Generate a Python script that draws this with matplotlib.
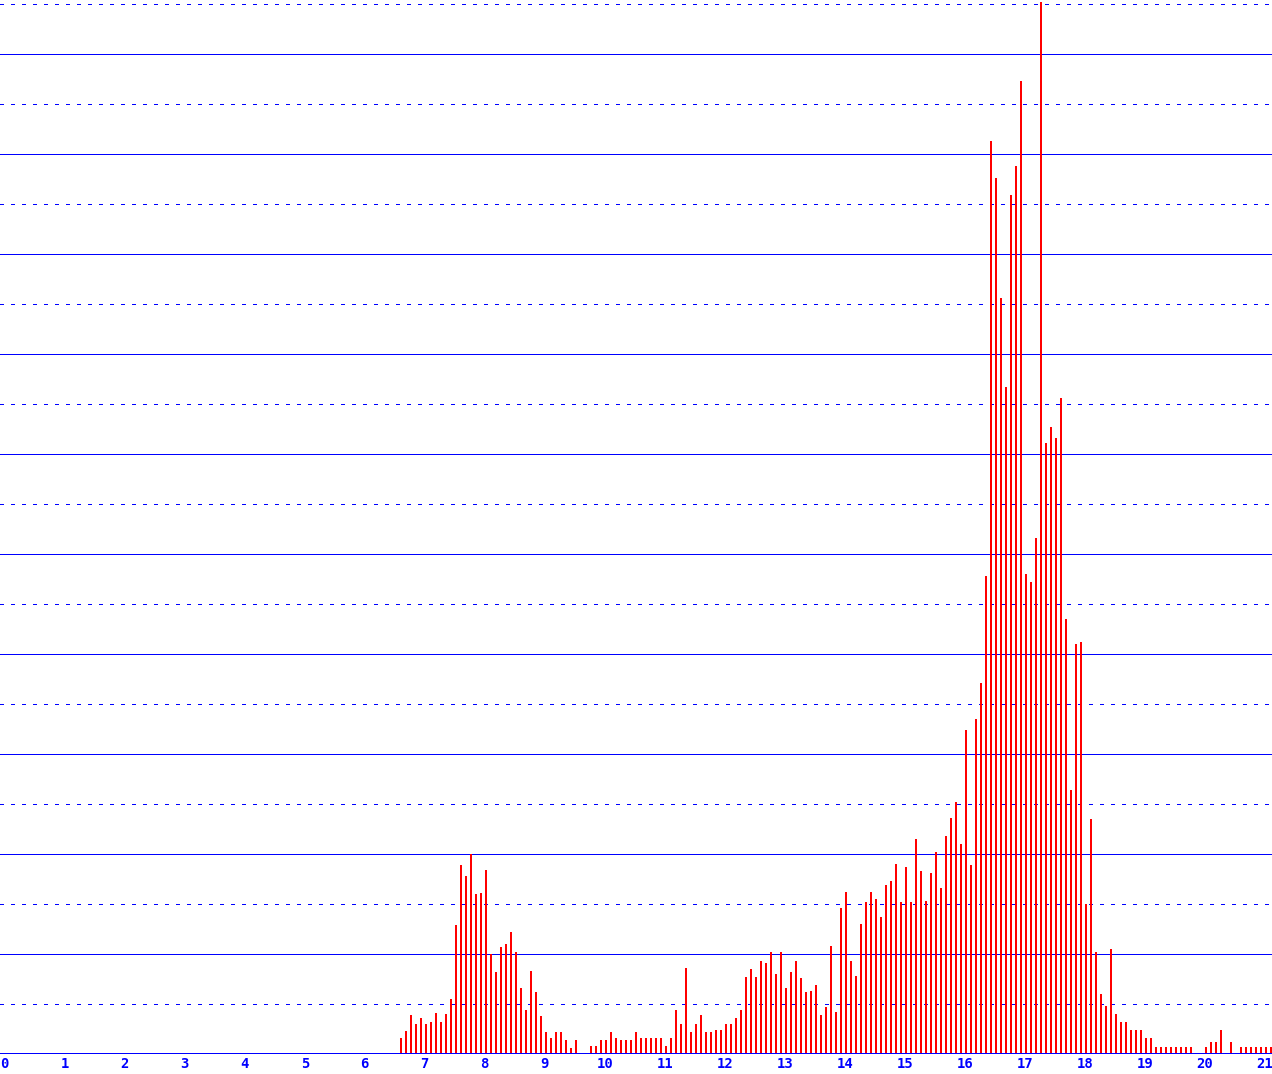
import numpy as np
import matplotlib
matplotlib.use("Agg")
import matplotlib.pyplot as plt

# bins are 1/12 wide, first non-empty bin is number 79
firstBin = 79
binWidth = 1/12
heights = [
    0.33, 0.47, 0.79, 0.61, 0.73, 0.61, 0.65, 0.83, 0.65, 0.81, 1.11, 2.59,
    3.79, 3.57, 4.00, 3.21, 3.23, 3.69, 2.01, 1.65, 2.15, 2.21, 2.45, 2.05,
    1.33, 0.89, 1.67, 1.25, 0.77, 0.45, 0.33, 0.45, 0.45, 0.29, 0.13, 0.29,
    0.0, 0.0, 0.17, 0.17, 0.29, 0.29, 0.45, 0.33, 0.29, 0.29, 0.29, 0.45,
    0.33, 0.33, 0.33, 0.33, 0.33, 0.17, 0.33, 0.89, 0.61, 1.73, 0.45, 0.61,
    0.79, 0.45, 0.45, 0.49, 0.49, 0.61, 0.61, 0.73, 0.89, 1.55, 1.71, 1.55,
    1.87, 1.83, 2.05, 1.61, 2.05, 1.33, 1.65, 1.87, 1.53, 1.25, 1.27, 1.39,
    0.79, 0.95, 2.17, 0.85, 2.93, 3.25, 1.87, 1.57, 2.61, 3.05, 3.25, 3.11,
    2.75, 3.39, 3.47, 3.81, 3.05, 3.75, 3.05, 4.31, 3.67, 3.07, 3.63, 4.05,
    3.33, 4.37, 4.73, 5.05, 4.21, 6.49, 3.79, 6.71, 7.43, 9.57, 18.27, 17.53,
    15.13, 13.35, 17.17, 17.77, 19.47, 9.61, 9.45, 10.33, 21.05, 12.23, 12.55, 12.33,
    13.13, 8.71, 5.28, 8.20, 8.24, 3.01, 4.71, 2.04, 1.21, 0.97, 2.11, 0.81,
    0.64, 0.64, 0.48, 0.48, 0.48, 0.33, 0.33, 0.15, 0.15, 0.15, 0.15, 0.15,
    0.15, 0.15, 0.15, 0.0, 0.0, 0.15, 0.25, 0.25, 0.48, 0.0, 0.25, 0.0,
    0.15, 0.15, 0.15, 0.15, 0.15, 0.15, 0.15,
]
xTicks = list(range(0, 22))

bins = np.arange(firstBin, firstBin + len(heights))
x = bins * binWidth

fig = plt.figure(figsize=(12.72, 10.74), dpi=100)
ax = fig.add_axes([0, 20/1074, 1, 1 - 20/1074])

# grid: solid on even, dotted on odd
for level in range(1, 22):
    if level % 2 == 0:
        ax.axhline(level, color="#0000ff", linewidth=0.72, zorder=1, antialiased=False)
    else:
        ax.axhline(level, color="#0000ff", linewidth=0.72, linestyle=(0, (3, 7)),
                   zorder=1, antialiased=False)
ax.axhline(0, color="#0000ff", linewidth=1.0, zorder=3, antialiased=False)

ax.bar(x, heights, width=2/60, align="edge", color="#ff0000", linewidth=0,
       zorder=2, antialiased=False)

ax.set_xlim(-4.8/60, (1272 - 4.8)/60)
ax.set_ylim(0, 21.08)
ax.set_xticks(xTicks)
ax.set_xticklabels([str(t) for t in xTicks], color="#0000ff",
                   fontfamily="DejaVu Sans Mono", fontsize=10, fontweight="bold")
ax.tick_params(axis="x", length=0, pad=2)
ax.set_yticks([])
for s in ax.spines.values():
    s.set_visible(False)

fig.savefig("out.png", dpi=100)
